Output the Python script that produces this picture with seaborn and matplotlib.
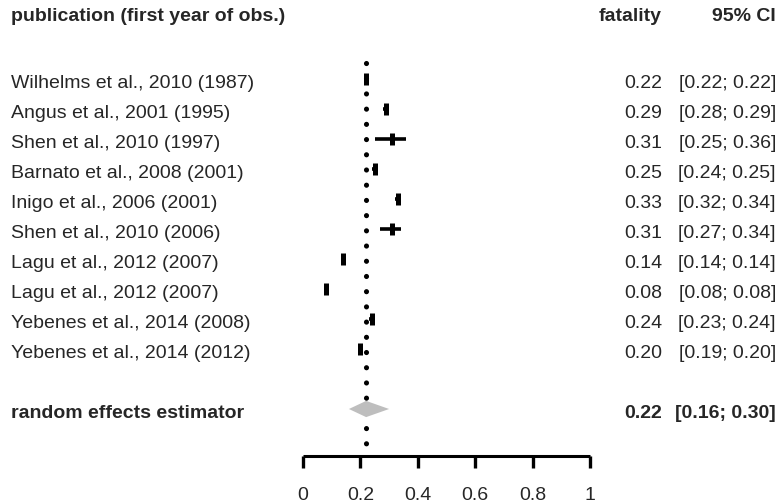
import matplotlib
matplotlib.use("Agg")
import matplotlib.pyplot as plt
import matplotlib.transforms as mtrans
import seaborn as sns
import pandas as pd

# Study data
studies = [
    "Wilhelms et al., 2010 (1987)",
    "Angus et al., 2001 (1995)",
    "Shen et al., 2010 (1997)",
    "Barnato et al., 2008 (2001)",
    "Inigo et al., 2006 (2001)",
    "Shen et al., 2010 (2006)",
    "Lagu et al., 2012 (2007)",
    "Lagu et al., 2012 (2007)",
    "Yebenes et al., 2014 (2008)",
    "Yebenes et al., 2014 (2012)",
]
fatality = [0.22, 0.29, 0.31, 0.25, 0.33, 0.31, 0.14, 0.08, 0.24, 0.20]
ci_lower = [0.22, 0.28, 0.25, 0.24, 0.32, 0.27, 0.14, 0.08, 0.23, 0.19]
ci_upper = [0.22, 0.29, 0.36, 0.25, 0.34, 0.34, 0.14, 0.08, 0.24, 0.20]

pooled_label = "random effects estimator"
pooled_est = 0.22
pooled_lower = 0.16
pooled_upper = 0.30

x_ticks = [0, 0.2, 0.4, 0.6, 0.8, 1]
x_tick_labels = ["0", "0.2", "0.4", "0.6", "0.8", "1"]

df = pd.DataFrame({
    "study": studies,
    "fatality": fatality,
    "lower": ci_lower,
    "upper": ci_upper,
    "row": list(range(len(studies))),
})

sns.set_theme(style="white")
plt.rcParams["font.family"] = ["Liberation Sans", "DejaVu Sans"]
FS = 14

W, H = 780, 504
fig = plt.figure(figsize=(W / 100, H / 100), dpi=100)

# Plot area: x from 0 to 1 spans pixel 303..590; rows 30 px apart
left_px, right_px = 303, 590
axis_px = 456
first_row_px = 79
row_h = 30
ax = fig.add_axes([left_px / W, 1 - axis_px / H, (right_px - left_px) / W, axis_px / H])
y_top = (0 - first_row_px) / row_h
y_bot = (axis_px - first_row_px) / row_h
ax.set_xlim(0, 1)
ax.set_ylim(y_bot, y_top)
ax.patch.set_alpha(0)

pooled_row = len(studies) + 1
header_row = (12 - first_row_px) / row_h
base_off = 9 / row_h  # text baseline sits a little below the row centre

# Reference line at the pooled estimate
ax.plot([pooled_est, pooled_est], [(63 - first_row_px) / row_h, (446 - first_row_px) / row_h],
        color="black", lw=3.7, linestyle=(0, (0.01, 2.95)), dash_capstyle="round",
        clip_on=False, zorder=1)

# Confidence intervals
ax.hlines(df["row"], df["lower"], df["upper"], color="black", lw=2.6, zorder=2)

# Point estimates
sns.scatterplot(data=df, x="fatality", y="row", marker="|", s=80, linewidth=3.6,
                color="black", ax=ax, zorder=3, legend=False)

# Pooled diamond
dh = 0.27
ax.fill([pooled_lower, pooled_est, pooled_upper, pooled_est],
        [pooled_row, pooled_row - dh, pooled_row, pooled_row + dh],
        color="#bebebe", lw=0, zorder=2)

# Axis styling
for s in ["top", "left", "right"]:
    ax.spines[s].set_visible(False)
ax.spines["bottom"].set_linewidth(2.2)
ax.spines["bottom"].set_color("black")
ax.spines["bottom"].set_capstyle("butt")
ax.set_yticks([])
ax.set_xticks(x_ticks)
ax.set_xticklabels(x_tick_labels, fontsize=FS)
ax.tick_params(axis="x", direction="out", length=8.5, width=2.4, color="black",
               pad=14, bottom=True)
ax.set_xlabel("")
ax.set_ylabel("")

# Text columns
tr = mtrans.blended_transform_factory(fig.transFigure, ax.transData)
x_name = 11 / W
x_fat = 662 / W
x_ci = 776 / W


def put(x, y, s, ha, bold=False):
    ax.text(x, y + base_off, s, transform=tr, ha=ha, va="baseline", fontsize=FS,
            fontweight="bold" if bold else "normal", clip_on=False)


put(x_name, header_row, "publication (first year of obs.)", "left", True)
put(x_fat, header_row, "fatality", "right", True)
put(x_ci, header_row, "95% CI", "right", True)

for r, name, f, lo, hi in zip(df["row"], studies, fatality, ci_lower, ci_upper):
    put(x_name, r, name, "left")
    put(x_fat, r, f"{f:.2f}", "right")
    put(x_ci, r, f"[{lo:.2f}; {hi:.2f}]", "right")

put(x_name, pooled_row, pooled_label, "left", True)
put(x_fat, pooled_row, f"{pooled_est:.2f}", "right", True)
put(x_ci, pooled_row, f"[{pooled_lower:.2f}; {pooled_upper:.2f}]", "right", True)

fig.savefig("out.png", dpi=100)
